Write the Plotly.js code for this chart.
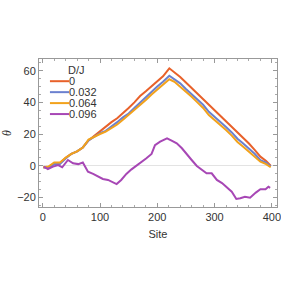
<!DOCTYPE html>
<html><head><meta charset="utf-8">
<script src="https://cdn.plot.ly/plotly-3.0.1.min.js"></script>
<style>html,body{margin:0;padding:0;background:#fff;}#chart{width:281px;height:300px;}</style>
</head><body><div id="chart"></div>
<script>
const legendTitle = "D/J";
const seriesNames = ["0", "0.032", "0.064", "0.096"];
const seriesColors = ["#E8612A", "#6B80CF", "#F2A21B", "#A747B5"];

const sitesA = [1,10,20,30,40,50,60,70,80,90,100,110,120,130,140,150,160,170,180,190,200,210,221,230,240,250,260,270,280,290,300,310,320,330,340,350,360,370,380,390,398];
const d0     = [-1,-1.5,1.5,1.5,5,7.5,9,11.5,16,19,22,25,27.5,30,33,36.5,40,44,47,50,53,56.5,61.5,59,56,52.5,49,45.5,42,39,35.5,32,28.5,25,21,17.5,14,10,5.7,3,0];
const d032   = [-1,-1.5,1,1,4.5,7.5,9,11.5,16,18.5,20.5,22,24.5,27.5,30.5,33,36.5,40,43,46.5,50,53,56.8,54.5,52,48.5,45,41.5,38.5,34,31,28,24.5,21,17,14,11,7.5,3.5,2,-0.5];
const d064   = [-1,-0.5,2,2,5,7.5,9,11.5,16.5,18.5,20,21.5,23.5,26,29,32,35,38.5,41.5,45,48,51.5,54.6,53,50,46.5,43.5,40,36.5,32,29,26,22.5,19,15,12,9,5.5,2.5,1,-1];

const sitesP = [2,9,18,27,34,44,53,62,70,79,88,97,105,114,123,129,137,146,155,163,172,181,190,196,205,217,225,234,243,252,260,269,278,286,295,304,313,321,330,338,345,353,362,372,380,389,394,397];
const d096   = [-0.6,-2.1,-0.6,0.4,-1,3.6,1.5,1,2,-3.8,-5.2,-7,-8.4,-9,-10.7,-11.6,-9,-5.2,-2.3,-0.2,1.9,4.7,7.4,13,15.2,17.3,15.8,14.1,11,6.8,3.6,-0.2,-2.7,-4.8,-4.8,-9,-11,-13.3,-16.4,-21,-20.6,-19.6,-20.2,-17,-14.9,-14.9,-13.3,-14];

const xs = [sitesA, sitesA, sitesA, sitesP];
const ys = [d0, d032, d064, d096];

const traces = ys.map((y, i) => ({
  x: xs[i], y: y, type: 'scatter', mode: 'lines', name: seriesNames[i],
  line: {color: seriesColors[i], width: 2}, showlegend: false
}));

const shapes = [], annotations = [];
// legend built from names/colors (layout positions only)
const lgX0 = 0.046, lgX1 = 0.126, lgTop = 0.85, lgStep = 0.074;
annotations.push({xref:'paper', yref:'paper', x:(lgX0+lgX1)/2+0.07, y:lgTop+0.075, text:legendTitle,
  showarrow:false, xanchor:'center', yanchor:'middle', font:{size:11, color:'#333', family:'Liberation Sans, Arial, sans-serif'}});
seriesNames.forEach((n, i) => {
  const yy = lgTop - i*lgStep;
  shapes.push({type:'line', xref:'paper', yref:'paper', x0:lgX0, x1:lgX1, y0:yy, y1:yy,
    line:{color:seriesColors[i], width:2}});
  annotations.push({xref:'paper', yref:'paper', x:lgX1, y:yy, text:n, showarrow:false,
    xanchor:'left', yanchor:'middle', xshift:-2, font:{size:11, color:'#333', family:'Liberation Sans, Arial, sans-serif'}});
});

const axCommon = {
  showgrid:false, showline:true, linecolor:'#999', linewidth:1, mirror:'allticks',
  ticks:'inside', ticklen:4, tickcolor:'#999', tickwidth:1, ticklabeloverflow:'allow',
  tickfont:{size:11, color:'#333', family:'Liberation Sans, Arial, sans-serif'},
};

const layout = {
  width:281, height:300,
  margin:{l:39, r:4, t:59, b:93},
  paper_bgcolor:'#fff', plot_bgcolor:'#fff',
  showlegend:false,
  xaxis: Object.assign({}, axCommon, {
    range:[-6.5, 409], tickvals:[0,100,200,300,400], zeroline:false,
    minor:{ticks:'inside', dtick:20, tick0:0, ticklen:2, tickcolor:'#aaa'},
    title:{text:'Site', font:{size:11, color:'#333', family:'Liberation Sans, Arial, sans-serif'}, standoff:8}
  }),
  yaxis: Object.assign({}, axCommon, {
    range:[-26.1, 67.4], tickvals:[-20,0,20,40,60], ticktext:['\u221220','0','20','40','60'],
    zeroline:true, zerolinecolor:'#e3e3e3', zerolinewidth:1,
    minor:{ticks:'inside', dtick:5, tick0:0, ticklen:2, tickcolor:'#aaa'},
    title:{text:'<i>θ</i>', font:{size:12, color:'#333', family:'Liberation Serif, serif'}, standoff:10}
  }),
  shapes: shapes, annotations: annotations
};

Plotly.newPlot('chart', traces, layout, {displayModeBar:false, staticPlot:true});
</script></body></html>
